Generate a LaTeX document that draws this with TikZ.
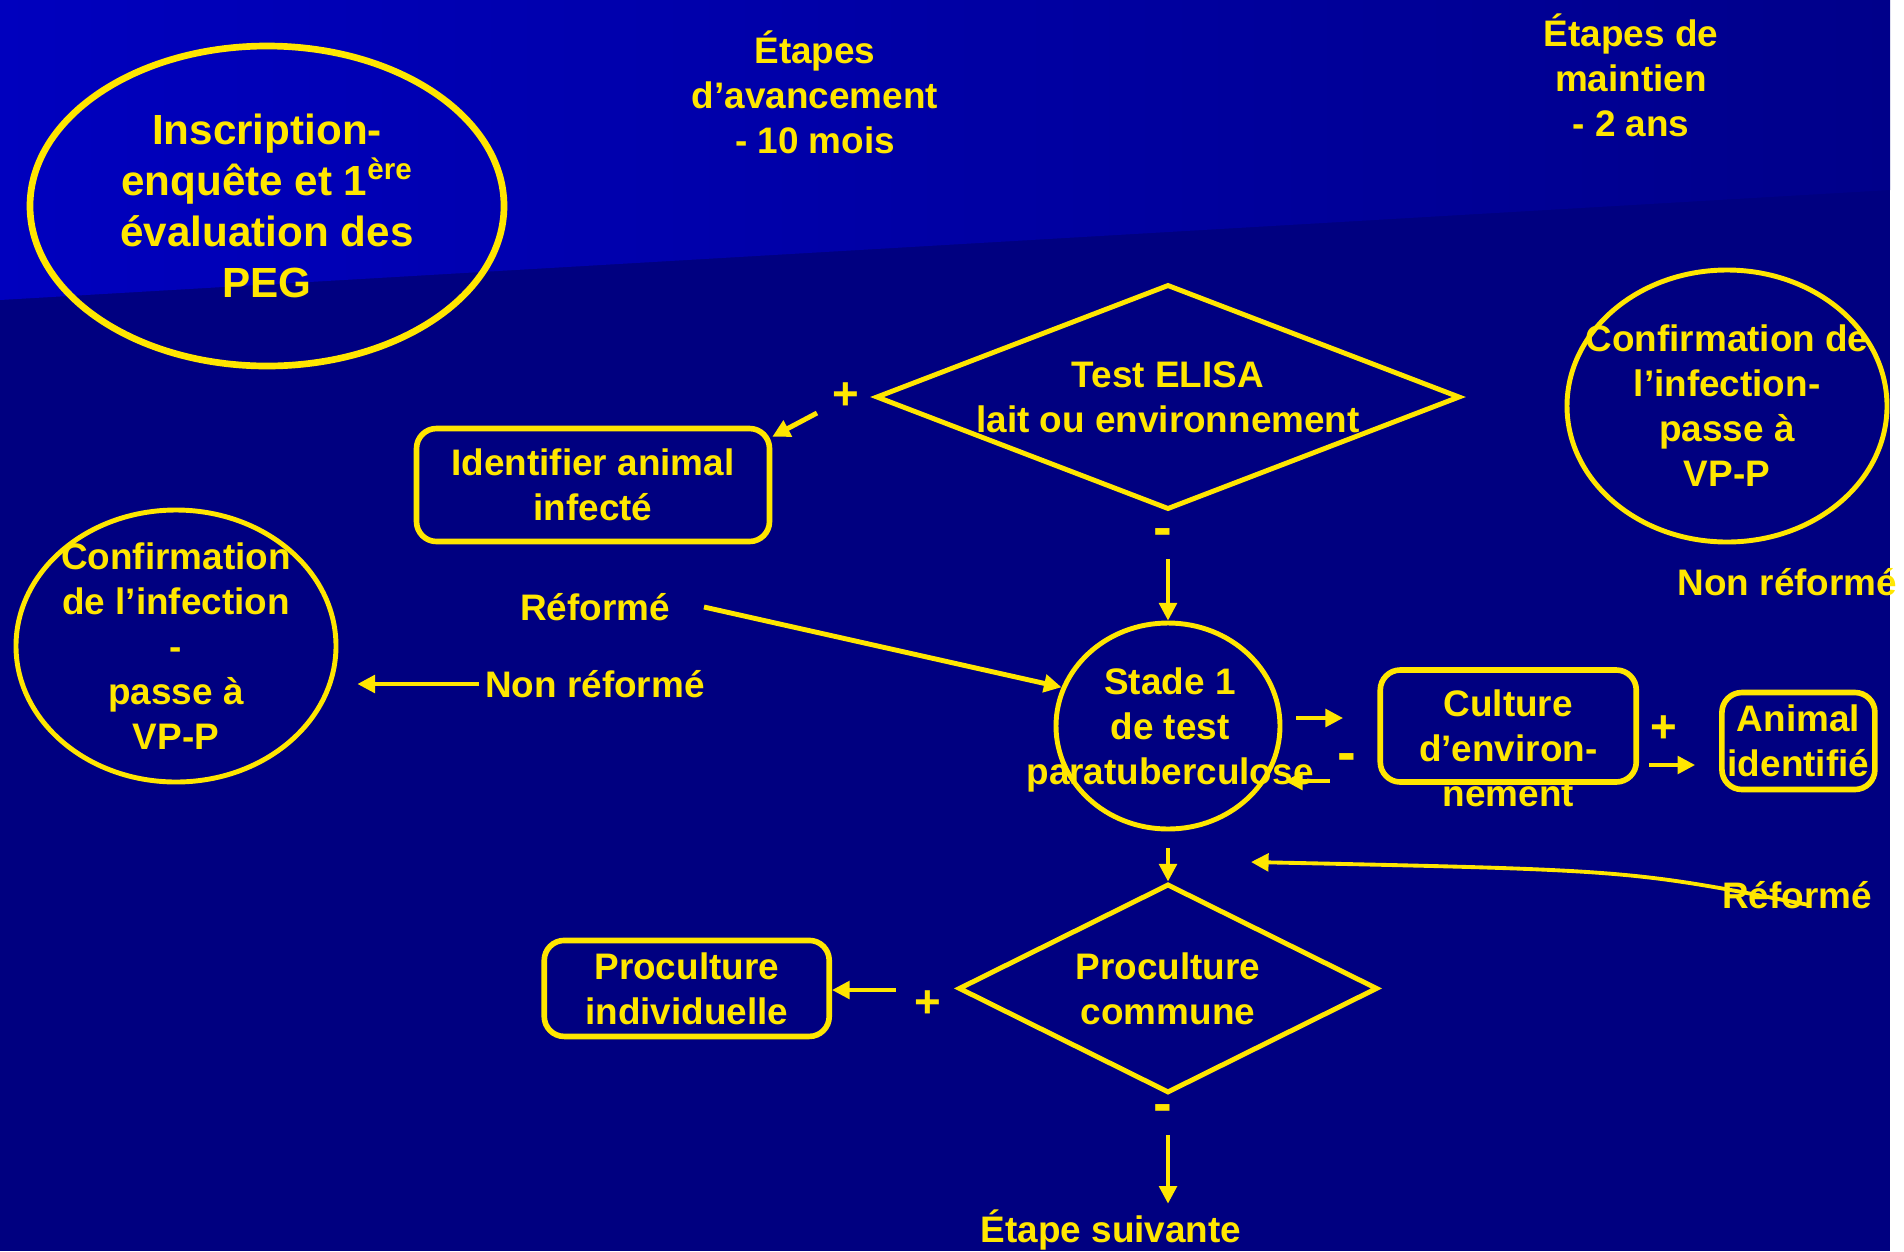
\documentclass[tikz,border=0pt]{standalone}
\usepackage{fontspec}
\setmainfont{Liberation Sans}
\usetikzlibrary{shapes.geometric, positioning, arrows.meta}
\definecolor{pgNavy}{RGB}{0,0,128}
\definecolor{pgSky}{RGB}{0,0,190}
\definecolor{pgTop}{RGB}{0,0,138}
\definecolor{pgYellow}{RGB}{255,230,0}

\begin{document}
\begin{tikzpicture}[
  txt/.style={text=pgYellow, font=\bfseries\fontsize{21}{25.6}\selectfont, align=center},
  sign/.style={text=pgYellow, font=\bfseries\fontsize{26}{26}\selectfont, inner sep=0pt},
  minus/.style={sign, font=\bfseries\fontsize{32}{32}\selectfont},
  oval/.style={ellipse, draw=pgYellow, line width=2.8pt, inner sep=0pt},
  box/.style={rectangle, draw=pgYellow, line width=3.2pt, rounded corners=0.4cm, inner sep=0pt, txt},
  test/.style={diamond, draw=pgYellow, line width=2.8pt, inner sep=0pt, txt},
  arr/.style={draw=pgYellow, line width=2.2pt, -{Triangle[length=10pt, width=10pt]}},
  node distance=1cm
]
  % background
  \useasboundingbox (0,0) rectangle (38.08,-25.02);
  \fill[white] (0,0) rectangle (38.08,-25.02);
  \fill[pgNavy] (0,0) rectangle (37.8,-25.02);
  \shade[left color=pgSky, right color=pgTop] (0,0) -- (37.8,0) -- (37.8,-3.8) -- (0,-6) -- cycle;

  % titles
  \node[txt] (avanc) at (16.3,-1.84) {Étapes\\d’avancement\\- 10 mois};
  \node[txt] (maint) at (32.62,-1.5) {Étapes de\\maintien\\- 2 ans};
  \node[oval, line width=3.8pt, minimum width=9.48cm, minimum height=6.4cm, txt, font=\bfseries\fontsize{24}{29}\selectfont] (inscr) at (5.34,-4.12) {Inscription-\\enquête et 1\textsuperscript{ère}\\évaluation des\\PEG};

  % test ELISA
  \node[test, shape aspect=2.6, minimum width=11.68cm, minimum height=4.5cm] (elisa) at (23.36,-7.94) {Test ELISA\\lait ou environnement};
  \node[sign] (ePlus) at (16.92,-7.92) {+};
  \node[minus] (eMinus) at (23.26,-10.76) {-};
  \node[box, minimum width=7.06cm, minimum height=2.26cm] (ident) at (11.86,-9.7) {Identifier animal\\infecté};

  % stade 1
  \node[oval, minimum width=4.48cm, minimum height=4.12cm] (stade) at (23.36,-14.52) {};
  \node[txt] (stadeT) at (23.4,-14.6) {Stade 1\\de test\\paratuberculose};
  \node[box, right=1.9cm of stade, minimum width=5.12cm, minimum height=2.24cm] (cult) {};
  \node[txt] (cultT) at ([yshift=-0.44cm]cult) {Culture\\d’environ-\\nement};
  \node[box, right=1.6cm of cult, yshift=-0.3cm, minimum width=3.06cm, minimum height=1.94cm] (anim) {Animal\\identifié};
  \node[sign] (cPlus) at (33.28,-14.58) {+};
  \node[minus] (cMinus) at (26.94,-15.26) {-};

  % confirmation
  \node[oval, minimum width=6.4cm, minimum height=5.44cm] (confL) at (3.52,-12.92) {};
  \node[txt] (confLT) at (confL) {Confirmation\\de l’infection\\-\\passe à\\VP-P};
  \node[oval, minimum width=6.4cm, minimum height=5.44cm] (confR) at (34.54,-8.12) {};
  \node[txt] (confRT) at (confR) {Confirmation de\\l’infection-\\passe à\\VP-P};
  \node[txt] (refL) at (11.9,-12.14) {Réformé};
  \node[txt] (nonrefL) at (11.9,-13.68) {Non réformé};
  \node[txt, anchor=west] (nonrefR) at (33.43,-11.64) {Non réformé};
  \node[txt] (refR) at (35.94,-17.9) {Réformé};

  % proculture
  \node[test, shape aspect=2, below=1cm of stade, minimum width=8.38cm, minimum height=4.18cm] (procom) {Proculture\\commune};
  \node[box, left=2.48cm of procom, minimum width=5.7cm, minimum height=1.92cm] (proind) {Proculture\\individuelle};
  \node[sign] (pPlus) at (18.56,-20.08) {+};
  \node[minus] (pMinus) at (23.26,-22.28) {-};
  \node[txt] (etape) at (22.22,-24.6) {Étape suivante};

  % arrows
  \coordinate (a0) at (16.34,-8.26);
  \draw[arr, line width=2.8pt] (a0) -- ([yshift=-0.22cm]ident.north east);
  \coordinate (b0) at (23.36,-11.18);
  \draw[arr] (b0) -- (stade.north);
  \coordinate (c0) at (14.08,-12.14);
  \draw[arr, line width=2.8pt] (c0) -- (stade.160);
  \draw[arr, shorten >=0.38cm] (nonrefL.west) -- (nonrefL.west -| confL.east);
  \coordinate (e0) at (25.92,-14.36);
  \coordinate (e1) at (26.86,-14.36);
  \draw[arr] (e0) -- (e1);
  \coordinate (f0) at (26.6,-15.62);
  \coordinate (f1) at (25.7,-15.62);
  \draw[arr] (f0) -- (f1);
  \coordinate (g0) at (32.98,-15.3);
  \draw[arr, shorten >=0.48cm] (g0) -- (g0 -| anim.west);
  \draw[arr] ([yshift=-0.34cm]stade.south) -- (procom.north);
  \coordinate (r0) at (36.18,-18.1);
  \coordinate (r1) at (25.02,-17.24);
  \draw[arr] (r0) .. controls (32.6,-17.4) .. (r1);
  \coordinate (i0) at (17.92,-19.8);
  \draw[arr] (i0) -- (i0 -| proind.east);
  \coordinate (j0) at (23.36,-22.7);
  \draw[arr] (j0) -- (j0 |- etape.north);
\end{tikzpicture}
\end{document}
